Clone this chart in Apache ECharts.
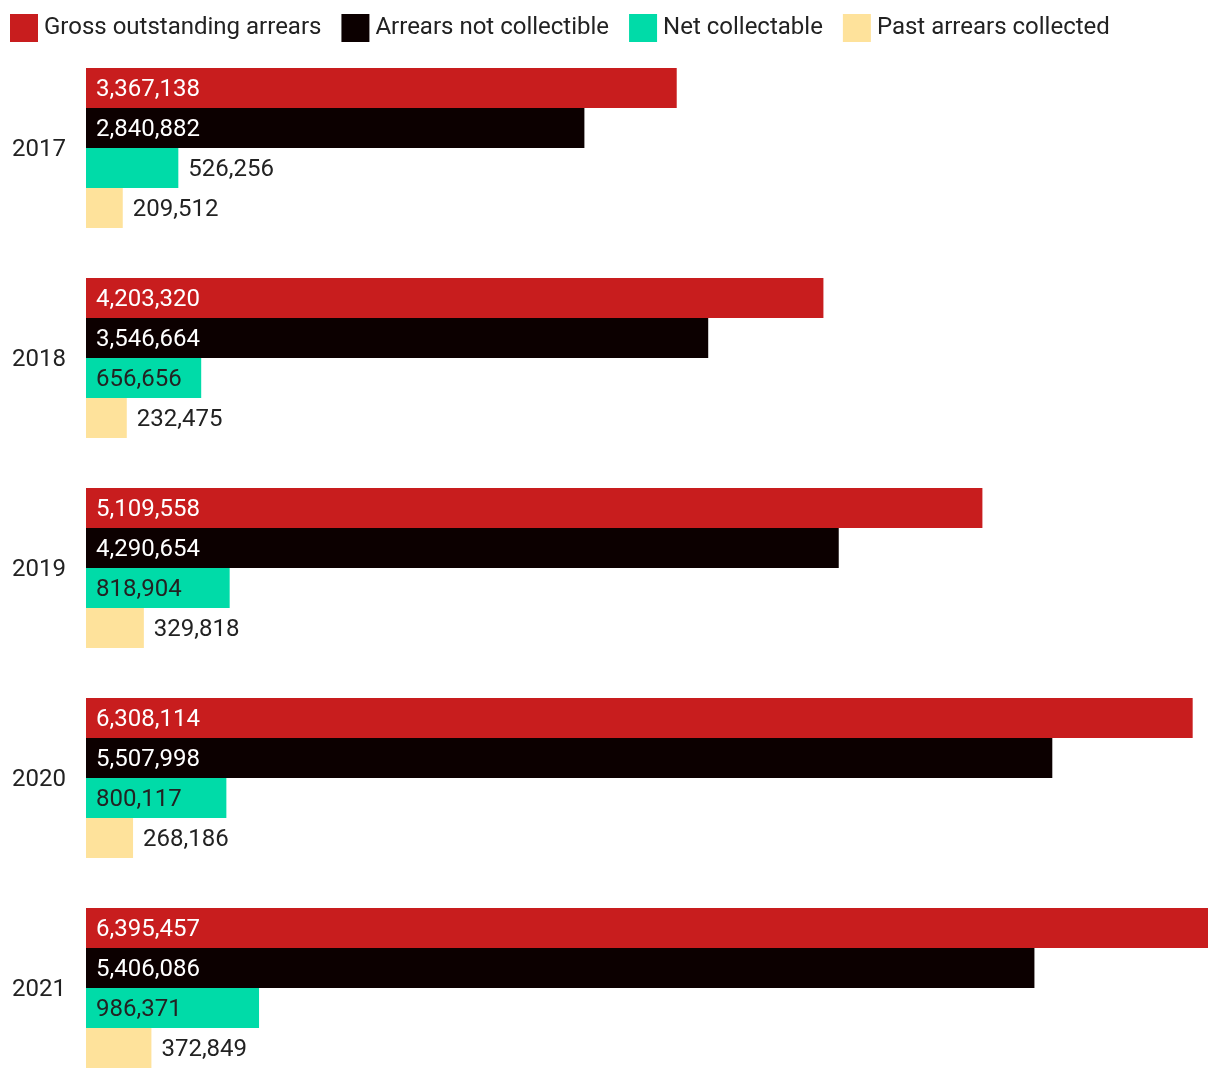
<!DOCTYPE html>
<html>
<head>
<meta charset="utf-8">
<script src="https://cdn.jsdelivr.net/npm/echarts@6/dist/echarts.min.js"></script>
<style>
  html, body { margin: 0; padding: 0; background: #fff; }
  #chart { width: 1220px; height: 1080px; }
</style>
</head>
<body>
<div id="chart"></div>
<script>
// data
const years = ["2017", "2018", "2019", "2020", "2021"];
const grossArrears = [3367138, 4203320, 5109558, 6308114, 6395457];
const notCollectible = [2840882, 3546664, 4290654, 5507998, 5406086];
const netCollectable = [526256, 656656, 818904, 800117, 986371];
const pastCollected = [209512, 232475, 329818, 268186, 372849];

const FONT = "Roboto";
const TEXT = "#222222";

// labels go inside the bar if it is wide enough, otherwise to the right
function labelFor(value, insideColor) {
  const inside = value > 600000;
  return {
    show: true,
    position: inside ? "insideLeft" : "right",
    distance: 10,
    offset: [0, 2],
    color: inside ? insideColor : TEXT,
    fontFamily: FONT,
    fontSize: 24,
    formatter: () => value.toLocaleString("en-US"),
  };
}

function makeSeries(name, values, color, insideColor) {
  return {
    name,
    type: "bar",
    barWidth: 40,
    barGap: 0,
    itemStyle: { color },
    data: values.map((v) => ({ value: v, label: labelFor(v, insideColor) })),
  };
}

const chart = echarts.init(document.getElementById("chart"), null, { renderer: "canvas" });

chart.setOption({
  animation: false,
  backgroundColor: "#ffffff",
  textStyle: { fontFamily: FONT },
  legend: {
    left: 10,
    top: 14,
    padding: 0,
    itemWidth: 28,
    itemHeight: 28,
    itemGap: 20,
    icon: "rect",
    textStyle: { color: TEXT, fontSize: 24, fontFamily: FONT, padding: [4, 0, 0, 1] },
    data: ["Gross outstanding arrears", "Arrears not collectible", "Net collectable", "Past arrears collected"],
  },
  grid: {
    left: 86,
    right: 12,
    top: 43,
    height: 1050,
    containLabel: false,
    outerBoundsMode: "none",
  },
  xAxis: {
    type: "value",
    min: 0,
    max: 6395457,
    show: false,
    splitLine: { show: false },
  },
  yAxis: {
    type: "category",
    data: years,
    inverse: true,
    axisLine: { show: false },
    axisTick: { show: false },
    axisLabel: {
      margin: 20,
      formatter: "{y|{value}}",
      rich: {
        y: { color: TEXT, fontSize: 24, fontFamily: FONT, padding: [4, 0, 0, 0] },
      },
    },
  },
  series: [
    makeSeries("Gross outstanding arrears", grossArrears, "#c81d1e", "#ffffff"),
    makeSeries("Arrears not collectible", notCollectible, "#0c0000", "#ffffff"),
    makeSeries("Net collectable", netCollectable, "#00dba8", TEXT),
    makeSeries("Past arrears collected", pastCollected, "#fee29b", TEXT),
  ],
});

window.addEventListener("resize", () => chart.resize());
</script>
</body>
</html>
